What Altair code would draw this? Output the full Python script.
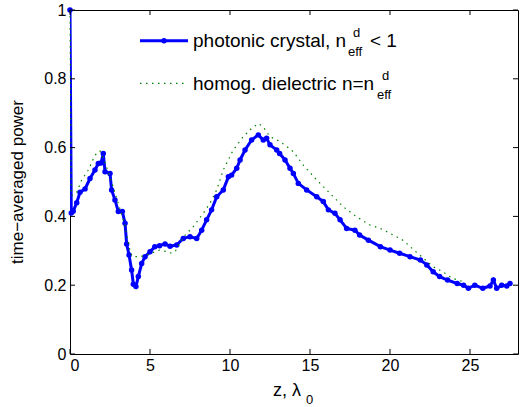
import altair as alt
import pandas as pd

# photonic crystal (blue, dots)
pc_z = [0, 0.08, 0.2, 0.42, 0.625, 0.94, 1.25, 1.56, 1.77, 1.94, 2.08, 2.19, 2.5, 2.6, 2.81,
        3.02, 3.27, 3.44, 3.54, 3.69, 3.85, 3.96, 4.12, 4.27, 4.48, 4.69, 5.0, 5.3, 5.6, 5.94,
        6.25, 6.67, 7.08, 7.5, 7.92, 8.23, 8.54, 8.85, 9.17, 9.58, 9.9, 10.1, 10.42, 10.63,
        10.94, 11.35, 11.77, 12.08, 12.29, 12.5, 12.92, 13.1, 13.44, 13.75, 13.96, 14.27,
        14.79, 15.42, 15.83, 16.15, 16.56, 16.88, 17.29, 17.81, 18.1, 18.65, 19.4, 20.0,
        20.6, 21.25, 21.9, 22.3, 22.7, 23.1, 23.6, 24.2, 24.6, 24.9, 25.3, 25.8, 26.25,
        26.46, 26.67, 26.98, 27.3, 27.5]
pc_p = [1.0, 0.41, 0.415, 0.44, 0.47, 0.48, 0.51, 0.535, 0.554, 0.555, 0.583, 0.53, 0.525,
        0.477, 0.448, 0.414, 0.414, 0.38, 0.32, 0.288, 0.244, 0.203, 0.196, 0.225, 0.263,
        0.283, 0.297, 0.312, 0.315, 0.32, 0.313, 0.317, 0.336, 0.341, 0.336, 0.36, 0.39,
        0.419, 0.457, 0.477, 0.515, 0.52, 0.54, 0.564, 0.593, 0.622, 0.637, 0.622, 0.627,
        0.608, 0.593, 0.583, 0.564, 0.54, 0.525, 0.496, 0.477, 0.457, 0.443, 0.419, 0.409,
        0.39, 0.365, 0.36, 0.346, 0.331, 0.312, 0.302, 0.293, 0.283, 0.273, 0.259, 0.239,
        0.225, 0.215, 0.205, 0.2, 0.191, 0.2, 0.191, 0.198, 0.215, 0.191, 0.2, 0.198, 0.205]

# homogeneous dielectric (green, dotted)
hd_z = [0, 0.08, 0.42, 0.73, 1.15, 1.56, 1.875, 2.2, 2.6, 3.0, 3.4, 3.75, 3.9, 4.4, 4.9,
        5.6, 6.0, 6.35, 6.6, 7.08, 7.7, 8.33, 8.75, 9.17, 9.58, 10.2, 10.83, 11.35, 11.77,
        12.08, 12.5, 13.1, 13.5, 13.96, 14.58, 15.42, 16.25, 17.08, 17.9, 18.75, 19.4,
        20.2, 20.8, 21.5, 22.1, 22.7, 23.3, 23.9, 24.6]
hd_p = [1.0, 0.46, 0.47, 0.506, 0.535, 0.578, 0.59, 0.555, 0.5, 0.44, 0.38, 0.3, 0.283,
        0.283, 0.29, 0.302, 0.298, 0.293, 0.3, 0.34, 0.37, 0.409, 0.438, 0.477, 0.535,
        0.593, 0.632, 0.656, 0.67, 0.66, 0.632, 0.618, 0.605, 0.588, 0.549, 0.506, 0.467,
        0.428, 0.399, 0.375, 0.365, 0.346, 0.331, 0.302, 0.278, 0.254, 0.239, 0.22, 0.21]

x_ticks = [0, 5, 10, 15, 20, 25]
y_ticks = [0, 0.2, 0.4, 0.6, 0.8, 1]

W, H = 448, 344
FONT = "Liberation Sans"
BLUE = "#0000ff"
GREEN = "#008000"

pc = pd.DataFrame({"z": pc_z, "p": pc_p})
hd = pd.DataFrame({"z": hd_z, "p": hd_p})
xt = pd.DataFrame({"v": x_ticks})
yt = pd.DataFrame({"v": y_ticks})
one = pd.DataFrame({"k": [0]})

xs = alt.Scale(domain=[0, 28], nice=False)
ys = alt.Scale(domain=[0, 1], nice=False)

X = alt.X("z:Q", scale=xs, axis=alt.Axis(values=x_ticks, title=None, format="~g"))
Y = alt.Y("p:Q", scale=ys, axis=alt.Axis(values=y_ticks, title=None, format="~g"))

blue_line = alt.Chart(pc).mark_line(color=BLUE, strokeWidth=3, clip=True).encode(x=X, y=Y)
blue_dots = alt.Chart(pc).mark_circle(color=BLUE, size=30, opacity=1).encode(x="z:Q", y="p:Q")
green_line = alt.Chart(hd).mark_line(color=GREEN, strokeWidth=1.2, strokeDash=[1.5, 4.5]).encode(x="z:Q", y="p:Q")

tl = 5
xtb = alt.Chart(xt).mark_rule(color="black").encode(x=alt.X("v:Q", scale=xs), y=alt.value(H), y2=alt.value(H - tl))
xtt = alt.Chart(xt).mark_rule(color="black").encode(x=alt.X("v:Q", scale=xs), y=alt.value(0), y2=alt.value(tl))
ytl = alt.Chart(yt).mark_rule(color="black").encode(y=alt.Y("v:Q", scale=ys), x=alt.value(0), x2=alt.value(tl))
ytr = alt.Chart(yt).mark_rule(color="black").encode(y=alt.Y("v:Q", scale=ys), x=alt.value(W), x2=alt.value(W - tl))


def txt(s, x, y, size, align="left", baseline="alphabetic", angle=0):
    kw = dict(align=align, baseline=baseline, font=FONT, fontSize=size, color="black")
    if angle:
        kw["angle"] = angle
    return alt.Chart(one).mark_text(**kw).encode(x=alt.value(x), y=alt.value(y), text=alt.value(s))


LS = 19
SS = 13
# legend
leg1_line = alt.Chart(one).mark_rule(color=BLUE, strokeWidth=3).encode(x=alt.value(70), x2=alt.value(118), y=alt.value(30.7))
leg1_dot = alt.Chart(one).mark_circle(color=BLUE, size=30, opacity=1).encode(x=alt.value(94), y=alt.value(30.7))
leg2_line = alt.Chart(one).mark_rule(color=GREEN, strokeWidth=1.2, strokeDash=[1.5, 4.5]).encode(x=alt.value(70), x2=alt.value(118), y=alt.value(73.3))

texts = [
    txt("photonic crystal, n", 123, 36.5, LS),
    txt("d", 283, 26.5, SS),
    txt("eff", 278, 45.5, SS),
    txt("< 1", 300, 36.5, LS),
    txt("homog. dielectric n=n", 123, 79.5, LS),
    txt("d", 312, 69.5, SS),
    txt("eff", 307, 88.5, SS),
    # axis titles
    txt("z, λ", 203, 386, 18),
    txt("0", 236, 394, SS),
    txt("time\u2212averaged power", -52, H / 2, 17, align="center", baseline="middle", angle=270),
]

chart = alt.layer(
    blue_line, blue_dots, green_line, xtb, xtt, ytl, ytr,
    leg1_line, leg1_dot, leg2_line, *texts
).properties(
    width=W, height=H,
    padding={"left": 70, "top": 10, "right": 3, "bottom": 53},
    autosize=alt.AutoSizeParams(type="none"),
    background="white",
).configure_view(
    stroke="black", strokeWidth=1
).configure_axis(
    grid=False, ticks=False, domain=False, labelFont=FONT, labelFontSize=16,
    labelColor="black", labelPadding=4
).configure_axisX(labelPadding=3)

chart.save("out.html", embed_options={"renderer": "svg", "actions": False})
